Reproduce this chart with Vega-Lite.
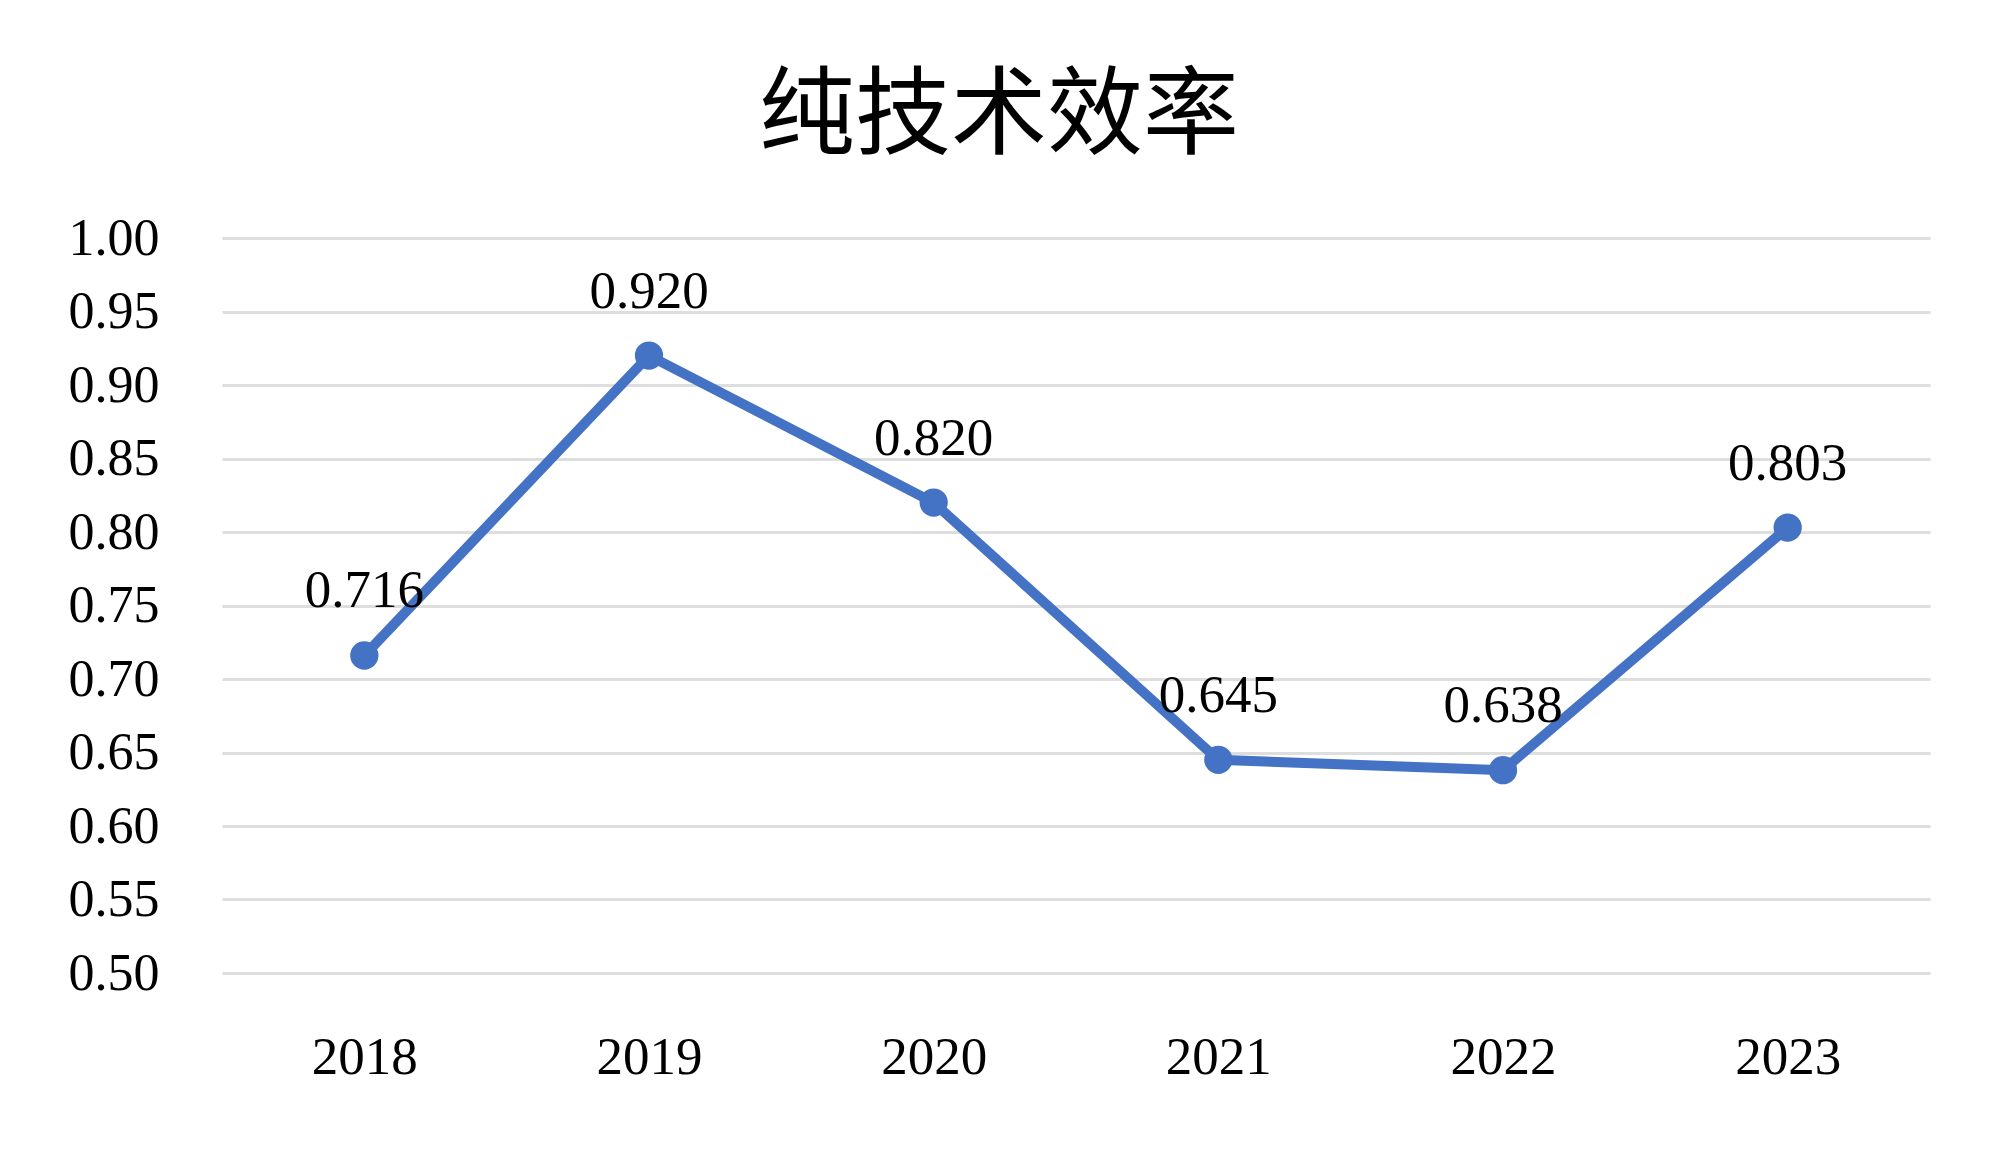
{
  "$schema": "https://vega.github.io/schema/vega-lite/v6.json",
  "autosize": "none",
  "width": 1708,
  "height": 735,
  "padding": {"left": 222, "top": 238, "right": 70, "bottom": 180},
  "background": "white",
  "title": {
    "text": "纯技术效率",
    "font": "Noto Sans CJK SC",
    "fontSize": 96,
    "fontWeight": "normal",
    "color": "#000000",
    "anchor": "middle",
    "dx": -77,
    "offset": 46
  },
  "config": {"view": {"stroke": null}},
  "data": {
    "values": [
      {"year": "2018", "value": 0.716},
      {"year": "2019", "value": 0.920},
      {"year": "2020", "value": 0.820},
      {"year": "2021", "value": 0.645},
      {"year": "2022", "value": 0.638},
      {"year": "2023", "value": 0.803}
    ]
  },
  "encoding": {
    "x": {
      "field": "year",
      "type": "ordinal",
      "scale": {"type": "point", "padding": 0.5},
      "axis": {
        "title": null,
        "labelAngle": 0,
        "labelFont": "Liberation Serif",
        "labelFontSize": 53,
        "labelColor": "#000000",
        "labelPadding": 58,
        "ticks": false,
        "domain": false,
        "grid": false
      }
    },
    "y": {
      "field": "value",
      "type": "quantitative",
      "scale": {"domain": [0.5, 1.0], "zero": false, "nice": false},
      "axis": {
        "title": null,
        "values": [0.5, 0.55, 0.6, 0.65, 0.7, 0.75, 0.8, 0.85, 0.9, 0.95, 1.0],
        "format": ".2f",
        "labelFont": "Liberation Serif",
        "labelFontSize": 52,
        "labelColor": "#000000",
        "labelPadding": 63,
        "ticks": false,
        "domain": false,
        "grid": true,
        "gridColor": "#DEDEDE",
        "gridWidth": 3
      }
    }
  },
  "layer": [
    {
      "mark": {"type": "line", "color": "#4472C4", "strokeWidth": 10}
    },
    {
      "mark": {"type": "point", "filled": true, "color": "#4472C4", "size": 800, "opacity": 1}
    },
    {
      "mark": {
        "type": "text",
        "font": "Liberation Serif",
        "fontSize": 53,
        "color": "#000000",
        "baseline": "alphabetic",
        "align": "center",
        "dy": -48
      },
      "encoding": {
        "text": {"field": "value", "type": "quantitative", "format": ".3f"}
      }
    }
  ]
}
